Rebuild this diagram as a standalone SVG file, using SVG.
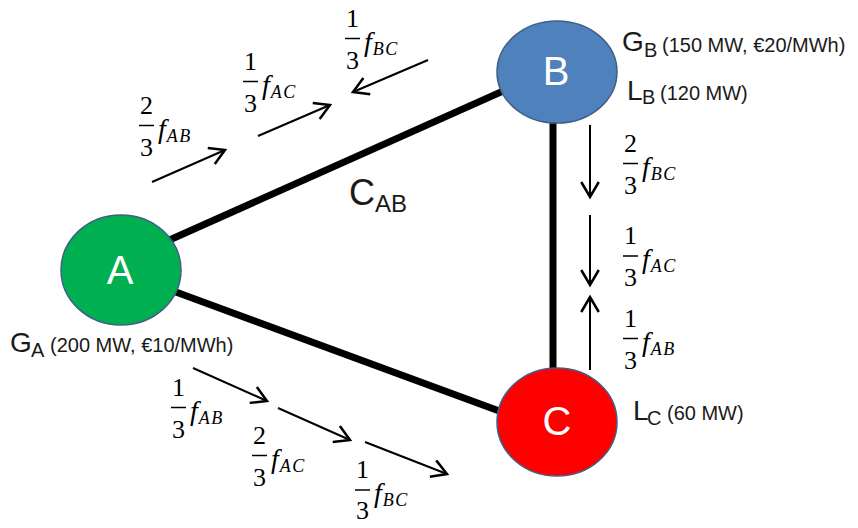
<svg xmlns="http://www.w3.org/2000/svg" width="858" height="528" viewBox="0 0 858 528">
<style>
.edge{stroke:#000;stroke-width:7;fill:none}
.flow{stroke:#000;stroke-width:2;fill:none;marker-end:url(#ah)}
.num{font-family:"Liberation Serif",serif;font-size:26px;text-anchor:middle;fill:#000}
.bar{stroke:#000;stroke-width:1.5}
.fv{font-family:"Liberation Serif",serif;font-style:italic;font-size:28px;fill:#000}
.sub{font-size:18px;letter-spacing:1.5px}
.nl{font-family:"Liberation Sans",sans-serif;font-size:40px;fill:#fff;text-anchor:middle}
.info{font-family:"Liberation Sans",sans-serif;fill:#1a1a1a}
.big{font-size:28px}
.sm{font-size:20px}
.nd{stroke:#3d5f8a;stroke-width:1.5}
</style>
<defs>
<marker id="ah" markerUnits="userSpaceOnUse" markerWidth="20" markerHeight="20" viewBox="0 0 16 16" refX="14" refY="8" orient="auto">
<path d="M2,1 L14,8 L2,15" fill="none" stroke="#000" stroke-width="2"/>
</marker>
</defs>
<rect width="858" height="528" fill="#fff"/>

<g id="connectors">
<line class="edge" x1="165" y1="242" x2="510" y2="88"/>
<line class="edge" x1="165" y1="288" x2="510" y2="415"/>
<line class="edge" x1="553" y1="115" x2="553" y2="375"/>
</g>

<g id="flows">
<line class="flow" x1="152" y1="182" x2="225" y2="150"/>
<line class="flow" x1="258" y1="136" x2="330" y2="105"/>
<line class="flow" x1="428" y1="60" x2="353" y2="92"/>
<line class="flow" x1="590" y1="125" x2="590" y2="197"/>
<line class="flow" x1="590" y1="215" x2="590" y2="285"/>
<line class="flow" x1="590" y1="370" x2="590" y2="297"/>
<line class="flow" x1="193" y1="368" x2="267" y2="401"/>
<line class="flow" x1="278" y1="408" x2="350" y2="440"/>
<line class="flow" x1="365" y1="442" x2="447" y2="474"/>
</g>

<g id="flow-labels">
<g transform="translate(139,137.5)"><text class="num" x="7.5" y="-24">2</text><line class="bar" x1="0" y1="-12" x2="15" y2="-12"/><text class="num" x="7.5" y="18">3</text><text class="fv" x="19" y="0">f<tspan class="sub" dx="1" dy="4">AB</tspan></text></g>
<g transform="translate(243,93.5)"><text class="num" x="7.5" y="-24">1</text><line class="bar" x1="0" y1="-12" x2="15" y2="-12"/><text class="num" x="7.5" y="18">3</text><text class="fv" x="19" y="0">f<tspan class="sub" dx="1" dy="4">AC</tspan></text></g>
<g transform="translate(345,50.5)"><text class="num" x="7.5" y="-24">1</text><line class="bar" x1="0" y1="-12" x2="15" y2="-12"/><text class="num" x="7.5" y="18">3</text><text class="fv" x="19" y="0">f<tspan class="sub" dx="1" dy="4">BC</tspan></text></g>
<g transform="translate(623,175.5)"><text class="num" x="7.5" y="-24">2</text><line class="bar" x1="0" y1="-12" x2="15" y2="-12"/><text class="num" x="7.5" y="18">3</text><text class="fv" x="19" y="0">f<tspan class="sub" dx="1" dy="4">BC</tspan></text></g>
<g transform="translate(623,268)"><text class="num" x="7.5" y="-24">1</text><line class="bar" x1="0" y1="-12" x2="15" y2="-12"/><text class="num" x="7.5" y="18">3</text><text class="fv" x="19" y="0">f<tspan class="sub" dx="1" dy="4">AC</tspan></text></g>
<g transform="translate(623,350.5)"><text class="num" x="7.5" y="-24">1</text><line class="bar" x1="0" y1="-12" x2="15" y2="-12"/><text class="num" x="7.5" y="18">3</text><text class="fv" x="19" y="0">f<tspan class="sub" dx="1" dy="4">AB</tspan></text></g>
<g transform="translate(171,419.5)"><text class="num" x="7.5" y="-24">1</text><line class="bar" x1="0" y1="-12" x2="15" y2="-12"/><text class="num" x="7.5" y="18">3</text><text class="fv" x="19" y="0">f<tspan class="sub" dx="1" dy="4">AB</tspan></text></g>
<g transform="translate(252,467.5)"><text class="num" x="7.5" y="-24">2</text><line class="bar" x1="0" y1="-12" x2="15" y2="-12"/><text class="num" x="7.5" y="18">3</text><text class="fv" x="19" y="0">f<tspan class="sub" dx="1" dy="4">AC</tspan></text></g>
<g transform="translate(355,502)"><text class="num" x="7.5" y="-24">1</text><line class="bar" x1="0" y1="-12" x2="15" y2="-12"/><text class="num" x="7.5" y="17">3</text><text class="fv" x="19" y="0">f<tspan class="sub" dx="1" dy="4">BC</tspan></text></g>
</g>

<g id="label-CAB">
<text class="info" x="349" y="205" font-size="36">C</text>
<text class="info" x="375" y="212" font-size="24">AB</text>
</g>

<g id="node-A">
<ellipse class="nd" cx="121" cy="270" rx="60" ry="55" fill="#00b050"/>
<text class="nl" x="120" y="284">A</text>
<text class="info big" x="10" y="352">G</text>
<text class="info sm" x="31" y="357">A</text>
<text class="info sm" x="50" y="352">(200 MW, €10/MWh)</text>
</g>

<g id="node-B">
<ellipse class="nd" cx="557" cy="72" rx="60" ry="51" fill="#4f81bd"/>
<text class="nl" x="556" y="85">B</text>
<text class="info big" x="622" y="51">G</text>
<text class="info sm" x="644" y="57">B</text>
<text class="info sm" x="662" y="52">(150 MW, €20/MWh)</text>
<text class="info big" x="627" y="100">L</text>
<text class="info sm" x="642" y="104">B</text>
<text class="info sm" x="660" y="100">(120 MW)</text>
</g>

<g id="node-C">
<ellipse class="nd" cx="557" cy="422" rx="60" ry="54" fill="#ff0000"/>
<text class="nl" x="557" y="435">C</text>
<text class="info big" x="633" y="420">L</text>
<text class="info sm" x="647" y="425">C</text>
<text class="info sm" x="667" y="420">(60 MW)</text>
</g>
</svg>
